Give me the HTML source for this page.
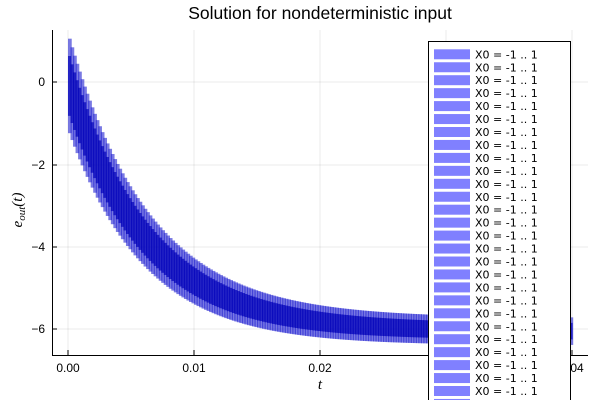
<!DOCTYPE html>
<html><head><meta charset="utf-8"><style>
body{margin:0;background:#fff;}
svg{display:block;font-family:"Liberation Sans",sans-serif;}
</style></head><body>
<svg id="s" width="600" height="400" viewBox="0 0 600 400">
<text x="320" y="19" font-size="17.5" text-anchor="middle">Solution for nondeterministic input</text>
<g stroke="#000" stroke-opacity="0.08" stroke-width="1">
<line x1="68" y1="30" x2="68" y2="355"/><line x1="194" y1="30" x2="194" y2="355"/>
<line x1="320" y1="30" x2="320" y2="355"/><line x1="446" y1="30" x2="446" y2="355"/>
<line x1="572" y1="30" x2="572" y2="355"/>
<line x1="52" y1="82" x2="588" y2="82"/><line x1="52" y1="165" x2="588" y2="165"/>
<line x1="52" y1="247" x2="588" y2="247"/><line x1="52" y1="329" x2="588" y2="329"/>
</g>
<g id="band"></g>
<g stroke="#000" stroke-width="1">
<line x1="52.5" y1="30" x2="52.5" y2="355"/><line x1="52" y1="355.5" x2="588" y2="355.5"/>
<line x1="52" y1="82" x2="57" y2="82"/><line x1="52" y1="165" x2="57" y2="165"/>
<line x1="52" y1="247" x2="57" y2="247"/><line x1="52" y1="329" x2="57" y2="329"/>
<line x1="68" y1="355" x2="68" y2="350"/><line x1="194" y1="355" x2="194" y2="350"/>
<line x1="320" y1="355" x2="320" y2="350"/><line x1="446" y1="355" x2="446" y2="350"/>
<line x1="572" y1="355" x2="572" y2="350"/>
</g>
<g font-size="12" text-anchor="end">
<text x="45" y="86">0</text><text x="45" y="169">−2</text><text x="45" y="251">−4</text><text x="45" y="333">−6</text>
</g>
<g font-size="12" text-anchor="middle">
<text x="68" y="372">0.00</text><text x="194" y="372">0.01</text><text x="320" y="372">0.02</text>
<text x="446" y="372">0.03</text><text x="572" y="372">0.04</text>
</g>
<text x="320" y="389" font-size="15" font-style="italic" text-anchor="middle" font-family="Liberation Serif,serif">t</text>
<text transform="translate(22,210) rotate(-90)" font-size="15" font-style="italic" text-anchor="middle" font-family="Liberation Serif,serif">e<tspan font-size="11" dy="3">out</tspan><tspan dy="-3">(t)</tspan></text>
<g id="leg"></g>
</svg>
<script>
var ns="http://www.w3.org/2000/svg";
function X(t){return 68+t*12600;}
function Y(v){return 82-v*41.25;}
function R(g,x,y,w,h,fill,op){var r=document.createElementNS(ns,'rect');r.setAttribute('x',x);r.setAttribute('y',y);r.setAttribute('width',w);r.setAttribute('height',h);r.setAttribute('fill',fill);if(op!==undefined)r.setAttribute('fill-opacity',op);g.appendChild(r);return r;}
var b=document.getElementById('band');
var dt=0.0002,pw=dt*12600;
function C(t){return -6.05+6.05*Math.exp(-t/0.00624);}
function H(t){return 0.33+0.72*Math.exp(-t/0.0078);}
for(var i=0;i<200;i++){
  var t=i*dt,c1=C(t),c2=C(t+dt),w=H(t);
  R(b,X(t),Y(c1+w),pw+1.2,Y(c2-w)-Y(c1+w),'#2020d0',0.6);
}
for(var i=0;i<200;i++){
  var t=i*dt,c1=C(t),c2=C(t+dt),w=H(t)*0.6;
  R(b,X(t),Y(c1+w),pw+0.6,Y(c2-w)-Y(c1+w),'#0000b8',0.7);
}
var L=document.getElementById('leg');
var box=R(L,428.5,41.5,142,370,'#fff');box.setAttribute('stroke','#000');
for(var i=0;i<28;i++){
  var y=54.3+i*12.95;
  R(L,434,y-5,36,10,'#8080ff');
  var tx=document.createElementNS(ns,'text');tx.setAttribute('x',475);tx.setAttribute('y',y+4);tx.setAttribute('font-size','11');tx.setAttribute('font-family','DejaVu Sans, sans-serif');tx.textContent='X0 = -1 .. 1';L.appendChild(tx);
}
</script>
</body></html>
